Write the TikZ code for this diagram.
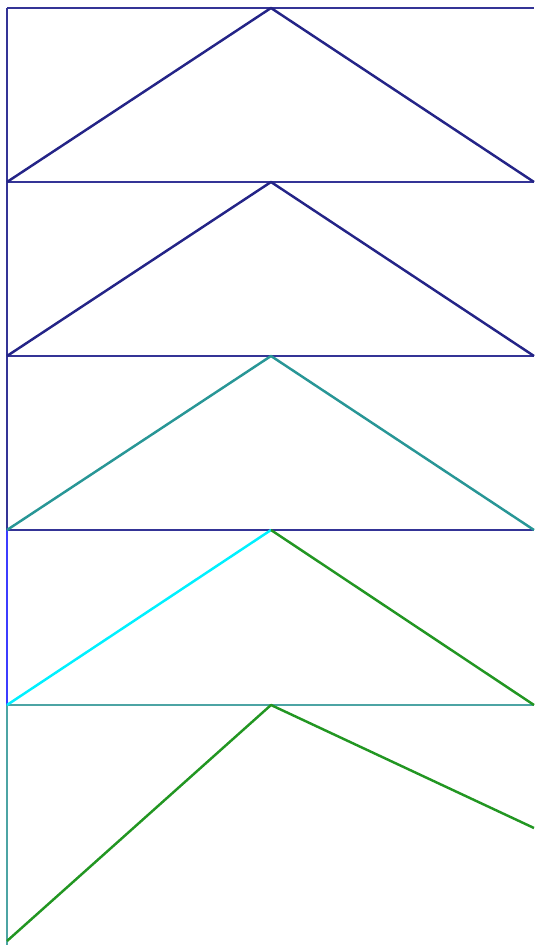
\documentclass[tikz,border=0pt]{standalone}
\usepackage{tikz}
\usetikzlibrary{calc}
\definecolor{framenavy}{RGB}{52,52,150}
\definecolor{ridgenavy}{RGB}{36,36,135}
\definecolor{ridgeteal}{RGB}{40,150,150}
\definecolor{framelight}{RGB}{76,164,164}
\definecolor{frameblue}{RGB}{60,60,255}
\definecolor{ridgecyan}{RGB}{0,240,255}
\definecolor{ridgegreen}{RGB}{34,150,34}

\begin{document}
\begin{tikzpicture}[
    x=0.02cm, y=-0.02cm,
    frame/.style={
        line width=1.5pt,
        color=framenavy
    },
    ridge/.style={
        line width=1.4pt,
        line join=round
    }
]

\useasboundingbox (0,0) rectangle (534,945);

% horizontal rules
\foreach \yy in {8,182,356,530}
    \draw[frame] (7,\yy) -- (534,\yy);
\draw[frame, color=framelight] (7,705) -- (534,705);

% left edge
\draw[frame] (7,8) -- (7,530);
\draw[frame, color=frameblue] (7,530) -- (7,705);
\draw[frame, color=framelight] (7,705) -- (7,945);

% peaks
\coordinate (peakA) at (271,8);
\coordinate (peakB) at (271,182);
\coordinate (peakC) at (271,356);
\coordinate (peakD) at (271,530);
\coordinate (peakE) at (271,705);

\draw[ridge, color=ridgenavy] (7,182) -- (peakA) -- (534,182);
\draw[ridge, color=ridgenavy] (7,356) -- (peakB) -- (534,356);
\draw[ridge, color=ridgeteal] (7,530) -- (peakC) -- (534,530);
\draw[ridge, color=ridgecyan] (7,705) -- (peakD);
\draw[ridge, color=ridgegreen] (peakD) -- (534,705);
\draw[ridge, color=ridgegreen] (7,941) -- (peakE) -- (534,828);

\end{tikzpicture}
\end{document}
